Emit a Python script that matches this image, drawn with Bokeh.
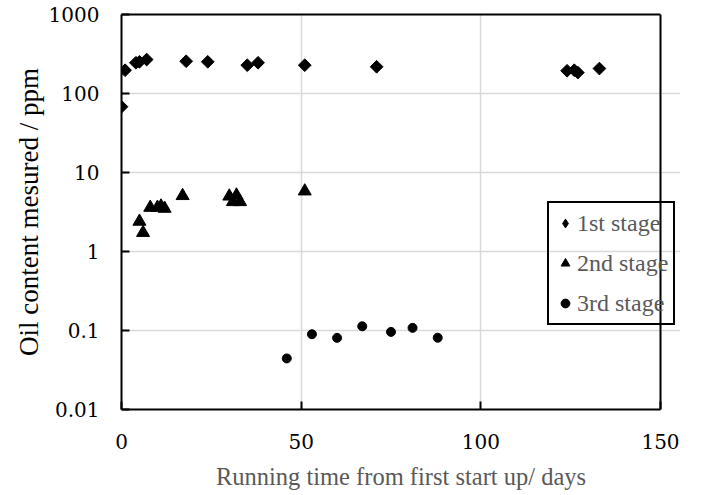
import numpy as np
from bokeh.plotting import figure
from bokeh.models import Range1d, FixedTicker, Legend, LegendItem, LinearAxis, Span
from bokeh.embed import file_html
from bokeh.resources import INLINE

# 1st stage
days_1 = [0, 1, 4, 5, 7, 18, 24, 35, 38, 51, 71, 124, 126, 127, 133]
oil_1 = [68, 197, 245, 252, 269, 256, 252, 228, 245, 228, 218, 194, 197, 184, 207]
# 2nd stage
days_2 = [5, 6, 8, 10, 11, 12, 17, 30, 31, 32, 33, 51]
oil_2 = [2.4, 1.73, 3.6, 3.6, 3.74, 3.5, 5.07, 5.0, 4.25, 5.15, 4.25, 5.8]
# 3rd stage
days_3 = [46, 53, 60, 67, 75, 81, 88]
oil_3 = [0.0443, 0.0897, 0.0807, 0.113, 0.096, 0.108, 0.081]

x_ticks = [0, 50, 100, 150]
y_ticks = [0.01, 0.1, 1, 10, 100, 1000]
y_tick_labels = ["0.01", "0.1", "1", "10", "100", "1000"]
series_names = ["1st stage", "2nd stage", "3rd stage"]

X_MIN, X_MAX = 0, 150
Y_MIN, Y_MAX = 0.01, 1000
# the frame is widened a little to the right so the legend can overhang the
# chart's right border as in the reference; the border itself is drawn at X_MAX
FRAME_W, EXTRA_W = 539, 20
x_end = X_MAX + EXTRA_W * (X_MAX - X_MIN) / FRAME_W

p = figure(width=689, height=479, output_backend="svg", toolbar_location=None,
           y_axis_type="log", x_range=Range1d(X_MIN, x_end), y_range=Range1d(Y_MIN, Y_MAX),
           frame_width=FRAME_W + EXTRA_W, frame_height=395,
           min_border_left=121, min_border_right=9, min_border_top=14, min_border_bottom=70)

p.background_fill_color = "white"
p.outline_line_color = None

p.xaxis.ticker = FixedTicker(ticks=x_ticks)
p.yaxis.ticker = FixedTicker(ticks=y_ticks)
p.yaxis.major_label_overrides = {t: l for t, l in zip(y_ticks, y_tick_labels)}
p.xaxis.minor_tick_line_color = None
p.yaxis.minor_tick_line_color = None
p.xaxis.bounds = (X_MIN, X_MAX)

for ax in (p.xaxis, p.yaxis):
    ax.axis_line_color = "black"
    ax.axis_line_width = 2
    ax.major_tick_in = 8
    ax.major_tick_out = 0
    ax.major_tick_line_color = "black"
    ax.major_tick_line_width = 2
    ax.major_label_text_font = "DejaVu Serif"
    ax.major_label_text_font_size = "20px"
    ax.major_label_text_color = "black"
    ax.axis_label_text_font = "Liberation Serif"
    ax.axis_label_text_font_style = "normal"

p.xaxis.major_label_standoff = 24
p.yaxis.major_label_standoff = 22
p.xaxis.axis_label = "Running time from first start up/ days"
p.xaxis.axis_label_text_color = "#595959"
p.xaxis.axis_label_text_font_size = "24.5px"
p.xaxis.axis_label_standoff = 11
p.yaxis.axis_label = "Oil content mesured / ppm"
p.yaxis.axis_label_text_color = "black"
p.yaxis.axis_label_text_font_size = "27px"
p.yaxis.axis_label_standoff = 2

# top border of the chart box
top_axis = LinearAxis(bounds=(X_MIN, X_MAX), axis_line_color="black", axis_line_width=2,
                      major_tick_line_color=None, minor_tick_line_color=None,
                      major_label_text_font_size="0px", ticker=FixedTicker(ticks=[]))
p.add_layout(top_axis, "above")
# right border of the chart box
p.add_layout(Span(location=X_MAX, dimension="height", line_color="black", line_width=2))

p.xgrid.grid_line_color = "#d9d9d9"
p.ygrid.grid_line_color = "#d9d9d9"
p.xgrid.grid_line_width = 1.5
p.ygrid.grid_line_width = 1.5
p.ygrid.bounds = (X_MIN, X_MAX)

r1 = p.scatter(days_1, oil_1, marker="square", angle=np.pi / 4, size=9,
               fill_color="black", line_color="black")
r2 = p.scatter(days_2, oil_2, marker="triangle", size=13,
               fill_color="black", line_color="black")
r3 = p.scatter(days_3, oil_3, marker="circle", size=9,
               fill_color="black", line_color="black")
# hidden proxy so that the legend shows a diamond (legend glyphs ignore angle)
r1_legend = p.scatter(days_1, oil_1, marker="diamond", fill_color="black",
                      line_color="black", visible=False)

legend = Legend(items=[LegendItem(label=series_names[0], renderers=[r1_legend]),
                       LegendItem(label=series_names[1], renderers=[r2]),
                       LegendItem(label=series_names[2], renderers=[r3])],
                location=(426, 84))
legend.background_fill_alpha = 0
legend.inactive_fill_alpha = 0
legend.border_line_color = "black"
legend.border_line_alpha = 1
legend.border_line_width = 2
legend.label_text_font = "Liberation Serif"
legend.label_text_font_size = "24px"
legend.label_text_color = "#595959"
legend.padding = 5
legend.spacing = 10
legend.glyph_width = 22
legend.glyph_height = 30
legend.label_height = 30
legend.label_standoff = 1
legend.margin = 0
p.add_layout(legend, "center")

open("out.html", "w").write(file_html(p, INLINE))
